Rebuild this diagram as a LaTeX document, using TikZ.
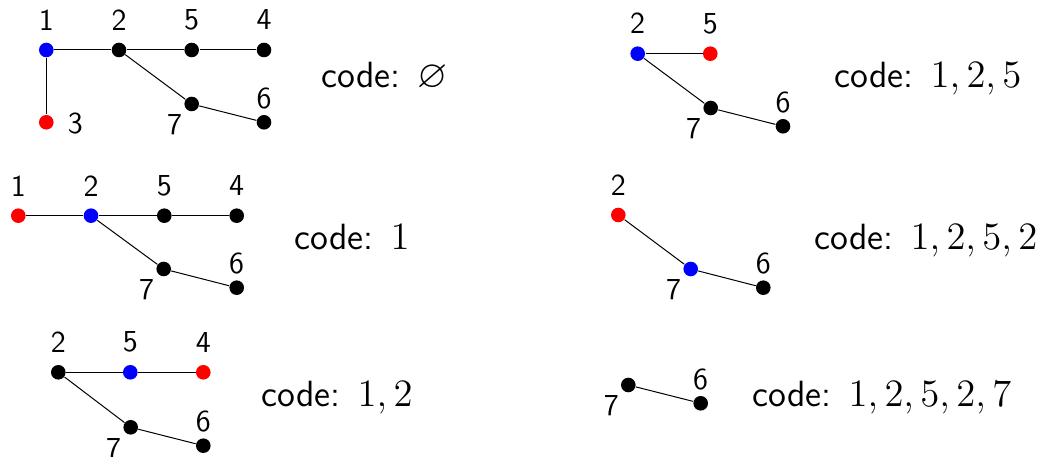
\RequirePackage{fix-cm}
\documentclass[tikz,border=0pt]{standalone}
\usepackage{amssymb}
\usetikzlibrary{calc}
\newcommand{\codemath}[1]{{\fontsize{15.5}{17}\selectfont$#1$}}
\begin{document}
\begin{tikzpicture}[x=0.4pt,y=-0.4pt,
  vtx/.style={circle,fill=black,inner sep=0pt,minimum size=5.84pt},
  bv/.style={vtx,fill=blue},
  rv/.style={vtx,fill=red},
  lbl/.style={font=\fontsize{12.2}{14}\selectfont\sffamily,inner sep=0pt},
  codetxt/.style={font=\fontsize{14.6}{17}\selectfont\sffamily,anchor=base west,inner sep=0pt},
  edg/.style={line width=0.4pt,black}]
\useasboundingbox (0,0) rectangle (1042,457);
% ---------- panel 1 ----------
\node[bv]  (a1) at (46.3,50) {};
\node[vtx] (a2) at (119,50) {};
\node[vtx] (a5) at (191.7,50) {};
\node[vtx] (a4) at (264,50) {};
\node[rv]  (a3) at (46.3,122.3) {};
\node[vtx] (a7) at (191.7,104) {};
\node[vtx] (a6) at (264,122.3) {};
\draw[edg] (a1) -- (a2) -- (a5) -- (a4);
\draw[edg] (a1) -- (a3);
\draw[edg] (a2) -- (a7) -- (a6);
\node[lbl] (la1) at ($(a1)+(0,-30)$) {1};
\node[lbl] (la2) at ($(a2)+(0,-30)$) {2};
\node[lbl] (la5) at ($(a5)+(0,-30)$) {5};
\node[lbl] (la4) at ($(a4)+(0,-30)$) {4};
\node[lbl] (la6) at ($(a6)+(0,-24)$) {6};
\node[lbl] (la7) at ($(a7)+(-17,21)$) {7};
\node[lbl] (la3) at ($(a3)+(29,1)$) {3};
\node[codetxt] (ca) at (321,88) {code:\hspace{0.47em}\codemath{\varnothing}};
% ---------- panel 2 ----------
\node[rv]  (b1) at (18.3,215.7) {};
\node[bv]  (b2) at (91,215.7) {};
\node[vtx] (b5) at (164.3,215.7) {};
\node[vtx] (b4) at (236.7,215.7) {};
\node[vtx] (b7) at (163.7,269) {};
\node[vtx] (b6) at (236.7,287.7) {};
\draw[edg] (b1) -- (b2) -- (b5) -- (b4);
\draw[edg] (b2) -- (b7) -- (b6);
\node[lbl] (lb1) at ($(b1)+(0,-30)$) {1};
\node[lbl] (lb2) at ($(b2)+(0,-30)$) {2};
\node[lbl] (lb5) at ($(b5)+(0,-30)$) {5};
\node[lbl] (lb4) at ($(b4)+(0,-30)$) {4};
\node[lbl] (lb6) at ($(b6)+(0,-24)$) {6};
\node[lbl] (lb7) at ($(b7)+(-17,21)$) {7};
\node[codetxt] (cb) at (294,250) {code:\hspace{0.47em}\codemath{1}};
% ---------- panel 3 ----------
\node[vtx] (c2) at (58.3,372.3) {};
\node[bv]  (c5) at (130.3,372.3) {};
\node[rv]  (c4) at (203.3,372.3) {};
\node[vtx] (c7) at (130.7,427.3) {};
\node[vtx] (c6) at (203.3,445.7) {};
\draw[edg] (c2) -- (c5) -- (c4);
\draw[edg] (c2) -- (c7) -- (c6);
\node[lbl] (lc2) at ($(c2)+(0,-30)$) {2};
\node[lbl] (lc5) at ($(c5)+(0,-30)$) {5};
\node[lbl] (lc4) at ($(c4)+(0,-30)$) {4};
\node[lbl] (lc6) at ($(c6)+(0,-24)$) {6};
\node[lbl] (lc7) at ($(c7)+(-17,21)$) {7};
\node[codetxt] (cc) at (261,407) {code:\hspace{0.47em}\codemath{1,2}};
% ---------- panel 4 ----------
\node[bv]  (d2) at (637.7,53.7) {};
\node[rv]  (d5) at (710.3,53.7) {};
\node[vtx] (d7) at (710.7,108) {};
\node[vtx] (d6) at (783,126.3) {};
\draw[edg] (d2) -- (d5);
\draw[edg] (d2) -- (d7) -- (d6);
\node[lbl] (ld2) at ($(d2)+(0,-30)$) {2};
\node[lbl] (ld5) at ($(d5)+(0,-30)$) {5};
\node[lbl] (ld6) at ($(d6)+(0,-24)$) {6};
\node[lbl] (ld7) at ($(d7)+(-17,21)$) {7};
\node[codetxt] (cd) at (834,88) {code:\hspace{0.47em}\codemath{1,2,5}};
% ---------- panel 5 ----------
\node[rv]  (e2) at (618.3,215) {};
\node[bv]  (e7) at (690.7,269) {};
\node[vtx] (e6) at (763.3,287.7) {};
\draw[edg] (e2) -- (e7) -- (e6);
\node[lbl] (le2) at ($(e2)+(0,-30)$) {2};
\node[lbl] (le6) at ($(e6)+(0,-24)$) {6};
\node[lbl] (le7) at ($(e7)+(-17,21)$) {7};
\node[codetxt] (ce) at (814,250) {code:\hspace{0.47em}\codemath{1,2,5,2}};
% ---------- panel 6 ----------
\node[vtx] (f7) at (628.3,385) {};
\node[vtx] (f6) at (700.7,403.3) {};
\draw[edg] (f7) -- (f6);
\node[lbl] (lf6) at ($(f6)+(0,-24)$) {6};
\node[lbl] (lf7) at ($(f7)+(-17,21)$) {7};
\node[codetxt] (cf) at (752,407) {code:\hspace{0.47em}\codemath{1,2,5,2,7}};
\end{tikzpicture}
\end{document}
